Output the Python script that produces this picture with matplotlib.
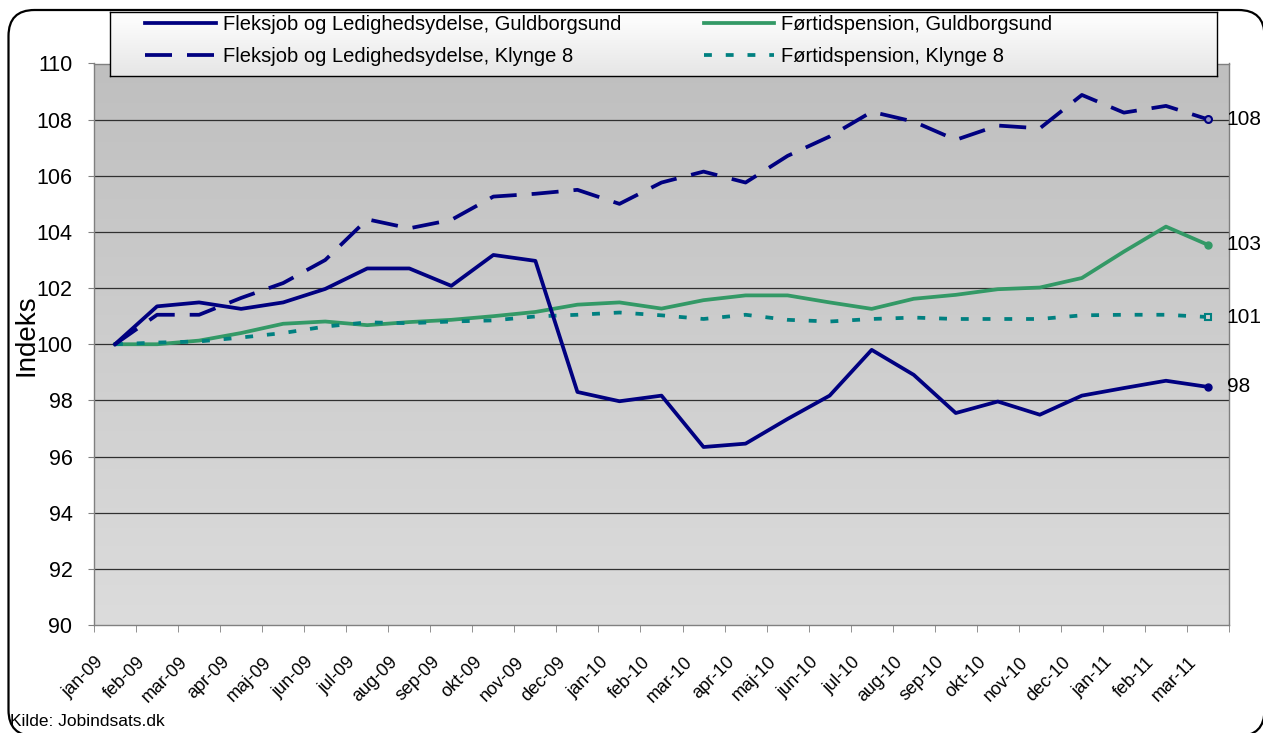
import numpy as np
import matplotlib
matplotlib.use("Agg")
import matplotlib.pyplot as plt
from matplotlib.colors import LinearSegmentedColormap
from matplotlib.patches import FancyBboxPatch
from matplotlib.transforms import ScaledTranslation

plt.rcParams['font.family'] = ['Liberation Sans', 'DejaVu Sans']

months = ["jan-09", "feb-09", "mar-09", "apr-09", "maj-09", "jun-09", "jul-09",
          "aug-09", "sep-09", "okt-09", "nov-09", "dec-09", "jan-10", "feb-10",
          "mar-10", "apr-10", "maj-10", "jun-10", "jul-10", "aug-10", "sep-10",
          "okt-10", "nov-10", "dec-10", "jan-11", "feb-11", "mar-11"]

fleks_gb = [100.0, 101.35, 101.49, 101.26, 101.49, 101.97, 102.70, 102.70, 102.08,
            103.18, 102.97, 98.30, 97.97, 98.17, 96.34, 96.46, 97.34, 98.17, 99.80,
            98.91, 97.55, 97.96, 97.49, 98.17, 98.44, 98.70, 98.48]
fleks_k8 = [100.0, 101.05, 101.05, 101.65, 102.18, 103.0, 104.45, 104.13, 104.43,
            105.26, 105.36, 105.50, 105.0, 105.76, 106.15, 105.76, 106.71, 107.40,
            108.28, 107.93, 107.28, 107.79, 107.69, 108.88, 108.25, 108.49, 108.01]
fort_gb = [100.0, 100.0, 100.13, 100.40, 100.73, 100.81, 100.68, 100.79, 100.87,
           101.0, 101.15, 101.41, 101.49, 101.27, 101.57, 101.74, 101.74, 101.49,
           101.26, 101.62, 101.76, 101.96, 102.02, 102.36, 103.30, 104.19, 103.54]
fort_k8 = [100.0, 100.06, 100.10, 100.24, 100.40, 100.63, 100.78, 100.75, 100.81,
           100.85, 100.99, 101.05, 101.13, 101.03, 100.90, 101.05, 100.87, 100.81,
           100.90, 100.95, 100.90, 100.90, 100.90, 101.03, 101.05, 101.05, 100.97]

series_names = ["Fleksjob og Ledighedsydelse, Guldborgsund",
                "Fleksjob og Ledighedsydelse, Klynge 8",
                "Førtidspension, Guldborgsund",
                "Førtidspension, Klynge 8"]
end_labels = ["98", "108", "103", "101"]
yticks = list(range(90, 111, 2))
ylabel = "Indeks"
source = "Kilde: Jobindsats.dk"

W, H = 1263, 733
fig = plt.figure(figsize=(W / 100, H / 100), dpi=100)
fig.patch.set_facecolor("white")

# outer rounded frame (display pixel coordinates), partly cropped like the original
frame = FancyBboxPatch((8.5, -3), W - 7, (H - 10) + 3,
                       boxstyle="round,pad=0,rounding_size=26",
                       transform=None, facecolor="white", edgecolor="black",
                       linewidth=1.6, zorder=-10)
fig.patches.append(frame)

ax = fig.add_axes([94 / W, 1 - 625 / H, (1229 - 94) / W, (625 - 63.5) / H])
x = np.arange(len(months))

cmap = LinearSegmentedColormap.from_list("pa", ["#bfbfbf", "#dcdcdc"])
ax.imshow(np.linspace(0, 1, 256).reshape(-1, 1), cmap=cmap, aspect="auto",
          extent=[-0.5, len(months) - 0.5, 90, 110], zorder=0)

for yv in yticks[1:-1]:
    ax.axhline(yv, color="#303030", lw=0.9, zorder=1)

navy = "#000080"
green = "#339966"
teal = "#008080"
lw = 2.7

l1, = ax.plot(x, fleks_gb, color=navy, lw=lw, zorder=5)
l2, = ax.plot(x, fleks_k8, color=navy, lw=lw, dashes=(7.2, 4.0), zorder=5)
l3, = ax.plot(x, fort_gb, color=green, lw=lw, zorder=4)
l4, = ax.plot(x, fort_k8, color=teal, lw=lw, dashes=(2.1, 3.7), zorder=4)

ax.plot(x[-1], fleks_gb[-1], "o", color=navy, ms=5, zorder=6)
ax.plot(x[-1], fleks_k8[-1], "o", mec=navy, mfc="#9090c0", mew=1.5, ms=5, zorder=6)
ax.plot(x[-1], fort_gb[-1], "o", color=green, ms=5, zorder=6)
ax.plot(x[-1], fort_k8[-1], "s", mec=teal, mfc="#d0d0d0", mew=1.5, ms=5, zorder=6)

for vals, lab in zip([fleks_gb, fleks_k8, fort_gb, fort_k8], end_labels):
    ax.annotate(lab, (x[-1], vals[-1]), xytext=(13.5, 0), textcoords="offset points",
                va="center", ha="left", fontsize=15, annotation_clip=False)

ax.set_xlim(-0.5, len(months) - 0.5)
ax.set_ylim(90, 110)
ax.set_yticks(yticks)
ax.set_yticklabels([str(v) for v in yticks], fontsize=15.5)
ax.tick_params(axis="y", direction="out", length=4.5, color="#808080", pad=11)

ax.set_xticks(x)
ax.set_xticklabels(months, rotation=45, ha="right", rotation_mode="anchor", fontsize=13)
ax.tick_params(axis="x", which="major", length=0, pad=14)
ax.set_xticks(np.arange(-0.5, len(months), 1), minor=True)
ax.tick_params(axis="x", which="minor", direction="out", length=5, color="#808080")
off = ScaledTranslation(-0.2, -0.09, fig.dpi_scale_trans)
for t in ax.get_xticklabels():
    t.set_transform(t.get_transform() + off)

for s in ax.spines.values():
    s.set_color("#808080")
    s.set_linewidth(1.0)

fig.text(26 / W, 1 - 335 / H, ylabel, rotation=90, fontsize=20, va="center", ha="center")
fig.text(10 / W, 1 - 722 / H, source, fontsize=12.5, va="center", ha="left")

# legend background
lax = fig.add_axes([110 / W, 1 - 76 / H, 1107 / W, 64 / H], zorder=3)
lcmap = LinearSegmentedColormap.from_list("lg", ["#ffffff", "#e6e6e6"])
lax.imshow(np.linspace(0, 1, 64).reshape(-1, 1), cmap=lcmap, aspect="auto",
           extent=[0, 1, 0, 1])
lax.set_xlim(0, 1)
lax.set_ylim(0, 1)
lax.set_xticks([])
lax.set_yticks([])
for s in lax.spines.values():
    s.set_color("black")
    s.set_linewidth(1.0)

leg = fig.legend([l1, l2, l3, l4], series_names, ncol=2, loc="upper left",
                 bbox_to_anchor=(140 / W, 1 - 10 / H), frameon=False, fontsize=14.5,
                 handlelength=3.5, handletextpad=0.35, columnspacing=4.1,
                 labelspacing=0.65, borderpad=0.25, borderaxespad=0)
leg.set_zorder(10)

fig.savefig("out.png", dpi=100)
